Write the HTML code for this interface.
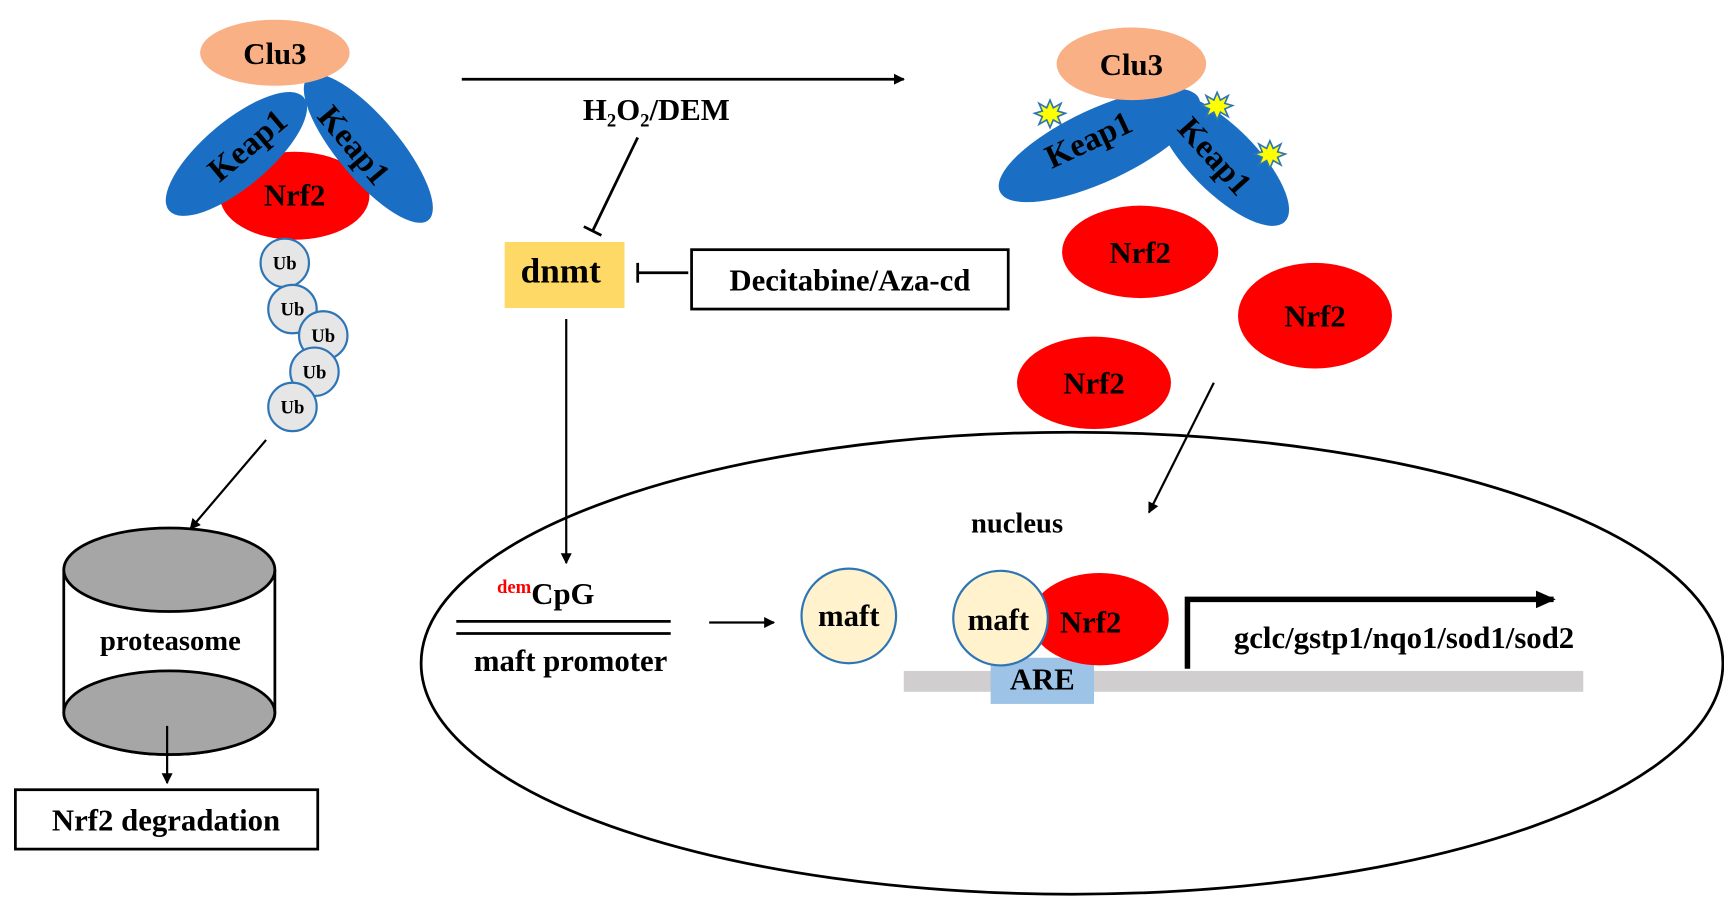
<!DOCTYPE html>
<html><head><meta charset="utf-8"><style>html,body{margin:0;padding:0;background:#fff}svg{display:block}text{font-family:"Liberation Serif",serif;font-weight:bold;fill:#000}</style></head>
<body>
<svg width="1724" height="914" viewBox="0 0 1568 831" preserveAspectRatio="none" xmlns="http://www.w3.org/2000/svg">
<defs>
<marker id="ah" markerWidth="10" markerHeight="10" refX="9" refY="5" orient="auto" markerUnits="userSpaceOnUse"><path d="M0,0 L10,5 L0,10 z" fill="#000"/></marker>
<marker id="ahb" markerWidth="18" markerHeight="16" refX="16" refY="8" orient="auto" markerUnits="userSpaceOnUse"><path d="M0,0 L18,8 L0,16 z" fill="#000"/></marker>
</defs>
<ellipse cx="268" cy="178" rx="68" ry="40" fill="#ff0000"/>
<ellipse cx="215" cy="140" rx="80" ry="30" fill="#1a6fc4" transform="rotate(-40 215 140)"/>
<ellipse cx="335" cy="135" rx="85" ry="28" fill="#1a6fc4" transform="rotate(50 335 135)"/>
<ellipse cx="250" cy="48" rx="68" ry="30" fill="#f8b084"/>
<text x="250" y="58" font-size="28" text-anchor="middle">Clu3</text>
<text x="225" y="142" font-size="30" text-anchor="middle" transform="rotate(-40 225 132)">Keap1</text>
<text x="322" y="142" font-size="30" text-anchor="middle" transform="rotate(50 322 132)">Keap1</text>
<text x="268" y="187" font-size="28" text-anchor="middle">Nrf2</text>
<g fill="#e6e6e6" stroke="#2e75b6" stroke-width="2">
<circle cx="259" cy="239" r="22"/><circle cx="266" cy="281" r="22"/><circle cx="294" cy="305" r="22"/><circle cx="286" cy="338" r="22"/><circle cx="266" cy="370" r="22"/>
</g>
<g font-size="17" text-anchor="middle">
<text x="259" y="245">Ub</text><text x="266" y="287">Ub</text><text x="294" y="311">Ub</text><text x="286" y="344">Ub</text><text x="266" y="376">Ub</text>
</g>
<line x1="242" y1="400" x2="173" y2="481" stroke="#000" stroke-width="2" marker-end="url(#ah)"/>
<path d="M58,518 L58,648 A96,38 0 0 0 250,648 L250,518" fill="#fff" stroke="#000" stroke-width="2.5"/>
<ellipse cx="154" cy="648" rx="96" ry="38" fill="#a6a6a6" stroke="#000" stroke-width="2.5"/>
<ellipse cx="154" cy="518" rx="96" ry="38" fill="#a6a6a6" stroke="#000" stroke-width="2.5"/>
<text x="155" y="591" font-size="26" text-anchor="middle">proteasome</text>
<line x1="152" y1="660" x2="152" y2="712" stroke="#000" stroke-width="2" marker-end="url(#ah)"/>
<rect x="14" y="718" width="275" height="54" fill="#fff" stroke="#000" stroke-width="2.5"/>
<text x="151" y="755" font-size="28" text-anchor="middle">Nrf2 degradation</text>
<line x1="420" y1="72" x2="822" y2="72" stroke="#000" stroke-width="2.5" marker-end="url(#ah)"/>
<text x="597" y="109" font-size="28" text-anchor="middle">H<tspan font-size="17" dy="6">2</tspan><tspan dy="-6">O</tspan><tspan font-size="17" dy="6">2</tspan><tspan dy="-6">/DEM</tspan></text>
<line x1="580" y1="125" x2="539" y2="210" stroke="#000" stroke-width="2.5"/>
<line x1="531" y1="206" x2="547" y2="214" stroke="#000" stroke-width="2.5"/>
<rect x="459" y="220" width="109" height="60" fill="#ffd966"/>
<text x="510" y="257" font-size="32" text-anchor="middle">dnmt</text>
<line x1="626" y1="248" x2="580" y2="248" stroke="#000" stroke-width="2.5"/>
<line x1="580" y1="239" x2="580" y2="257" stroke="#000" stroke-width="2.5"/>
<rect x="629" y="227" width="288" height="54" fill="#fff" stroke="#000" stroke-width="2.5"/>
<text x="773" y="264" font-size="28" text-anchor="middle">Decitabine/Aza-cd</text>
<line x1="515" y1="290" x2="515" y2="512" stroke="#000" stroke-width="2" marker-end="url(#ah)"/>
<ellipse cx="1000" cy="132" rx="100" ry="33" fill="#1a6fc4" transform="rotate(-25 1000 132)"/>
<ellipse cx="1112" cy="145" rx="80" ry="30" fill="#1a6fc4" transform="rotate(45 1112 145)"/>
<ellipse cx="1029" cy="58" rx="68" ry="33" fill="#f8b084"/>
<text x="1029" y="68" font-size="28" text-anchor="middle">Clu3</text>
<text x="990" y="137" font-size="30" text-anchor="middle" transform="rotate(-25 990 127)">Keap1</text>
<text x="1105" y="152" font-size="30" text-anchor="middle" transform="rotate(48 1105 142)">Keap1</text>
<g fill="#ffff00" stroke="#2e75b6" stroke-width="1.5">
<polygon points="955,91 958,98 965,94 962,101 969,103 962,106 965,113 958,109 955,116 952,109 945,113 948,106 941,103 948,101 945,94 952,98" />
<polygon points="1107,84 1110,91 1117,87 1114,94 1121,96 1114,99 1117,106 1110,102 1107,109 1104,102 1097,106 1100,99 1093,96 1100,94 1097,87 1104,91"/>
<polygon points="1155,128 1158,135 1165,131 1162,138 1169,140 1162,143 1165,150 1158,146 1155,153 1152,146 1145,150 1148,143 1141,140 1148,138 1145,131 1152,135"/>
</g>
<ellipse cx="1037" cy="229" rx="71" ry="42" fill="#ff0000"/>
<text x="1037" y="239" font-size="28" text-anchor="middle">Nrf2</text>
<ellipse cx="1196" cy="287" rx="70" ry="48" fill="#ff0000"/>
<text x="1196" y="297" font-size="28" text-anchor="middle">Nrf2</text>
<ellipse cx="995" cy="348" rx="70" ry="42" fill="#ff0000"/>
<text x="995" y="358" font-size="28" text-anchor="middle">Nrf2</text>
<line x1="1104" y1="348" x2="1045" y2="466" stroke="#000" stroke-width="2" marker-end="url(#ah)"/>
<ellipse cx="975" cy="603" rx="592" ry="210" fill="none" stroke="#000" stroke-width="2.5"/>
<text x="925" y="484" font-size="26" text-anchor="middle">nucleus</text>
<text x="452" y="549" font-size="28"><tspan font-size="17" fill="#ff0000" dy="-10">dem</tspan><tspan dy="10">CpG</tspan></text>
<line x1="415" y1="565" x2="610" y2="565" stroke="#000" stroke-width="2.5"/>
<line x1="415" y1="576" x2="610" y2="576" stroke="#000" stroke-width="2.5"/>
<text x="519" y="610" font-size="28" text-anchor="middle">maft promoter</text>
<line x1="645" y1="566" x2="704" y2="566" stroke="#000" stroke-width="2" marker-end="url(#ah)"/>
<circle cx="772" cy="560" r="43" fill="#fff2cc" stroke="#2e75b6" stroke-width="2"/>
<text x="772" y="569" font-size="28" text-anchor="middle">maft</text>
<rect x="822" y="610" width="618" height="19" fill="#d0cece"/>
<rect x="901" y="598" width="94" height="42" fill="#9dc3e6"/>
<text x="948" y="627" font-size="28" text-anchor="middle">ARE</text>
<ellipse cx="1000" cy="563" rx="63" ry="42" fill="#ff0000"/>
<text x="992" y="575" font-size="28" text-anchor="middle">Nrf2</text>
<circle cx="910" cy="562" r="43" fill="#fff2cc" stroke="#2e75b6" stroke-width="2"/>
<text x="908" y="573" font-size="28" text-anchor="middle">maft</text>
<path d="M1080,608 L1080,545 L1413,545" fill="none" stroke="#000" stroke-width="5" marker-end="url(#ahb)"/>
<text x="1277" y="589" font-size="28" text-anchor="middle">gclc/gstp1/nqo1/sod1/sod2</text>
</svg>
</body></html>
